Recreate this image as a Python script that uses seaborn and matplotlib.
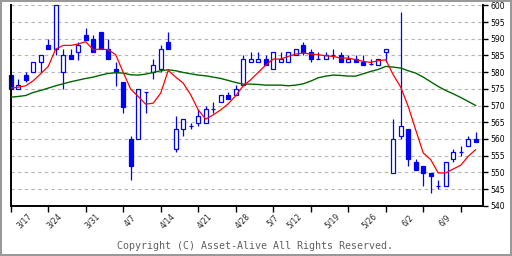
import numpy as np
import pandas as pd
import matplotlib
matplotlib.use('Agg')
import matplotlib.pyplot as plt
import matplotlib.transforms as mtrans
from matplotlib.patches import Rectangle
import seaborn as sns

# ---- data ----
date_labels = ['3/17', '3/24', '3/31', '4/7', '4/14', '4/21', '4/28',
               '5/7', '5/12', '5/19', '5/26', '6/2', '6/9']
label_idx = [0, 4, 9, 14, 19, 24, 29, 33, 36, 41, 46, 51, 56]

opens = [579.1, 574.9, 579.2, 580.0, 583.0, 588.1, 586.9, 580.0, 585.2, 585.9,
         591.1, 589.9, 591.9, 586.9, 581.0, 577.1, 560.1, 560.0, 574.0, 580.0,
         580.9, 588.9, 557.0, 562.9, 563.9, 564.9, 564.9, 568.9, 571.0, 573.0,
         573.0, 576.1, 583.0, 583.0, 583.9, 580.9, 583.0, 583.0, 585.1, 588.1,
         586.1, 583.9, 583.9, 585.1, 585.1, 583.0, 583.9, 583.0, 582.4, 582.1,
         585.9, 549.8, 561.0, 562.9, 553.0, 552.0, 549.8, 546.0, 546.0, 554.0,
         556.0, 558.0, 560.0]
highs = [579.2, 578.0, 580.1, 583.1, 585.1, 589.9, 600.0, 586.9, 586.9, 589.0,
         593.2, 591.1, 591.9, 589.9, 583.1, 577.1, 561.0, 574.9, 574.0, 584.0,
         588.0, 591.9, 566.9, 565.9, 564.9, 568.9, 569.9, 571.0, 573.0, 574.0,
         576.1, 585.1, 586.1, 586.1, 585.1, 586.1, 586.1, 586.1, 586.9, 588.9,
         586.9, 585.9, 586.1, 586.9, 586.1, 585.1, 585.1, 585.1, 583.9, 583.9,
         586.9, 565.9, 598.0, 562.9, 554.0, 552.0, 549.8, 547.8, 553.0, 557.0,
         558.0, 561.0, 562.0]
lows = [574.8, 574.9, 576.9, 580.0, 580.0, 586.8, 585.1, 574.9, 583.8, 583.7,
        589.7, 585.9, 586.9, 583.8, 575.9, 567.9, 547.8, 560.0, 567.9, 577.9,
        580.0, 586.9, 556.0, 561.0, 562.9, 563.9, 564.9, 567.9, 571.0, 571.9,
        573.0, 576.1, 583.0, 583.0, 582.1, 580.9, 583.0, 583.0, 585.1, 585.1,
        583.0, 583.9, 583.9, 583.9, 583.0, 583.0, 583.0, 582.1, 582.1, 582.1,
        583.0, 549.8, 560.0, 551.8, 550.8, 545.8, 543.8, 545.0, 546.0, 553.0,
        555.0, 558.0, 559.0]
closes = [574.9, 576.1, 577.7, 583.1, 585.1, 586.8, 600.0, 585.1, 583.8, 588.0,
          589.7, 585.9, 586.9, 583.8, 579.9, 569.7, 551.8, 574.9, 574.0, 582.1,
          586.9, 586.9, 562.9, 565.9, 563.9, 566.9, 568.9, 568.9, 573.0, 571.9,
          574.9, 583.9, 583.9, 583.9, 582.1, 586.1, 583.9, 586.1, 586.9, 585.9,
          583.9, 583.9, 585.1, 585.1, 583.0, 583.9, 583.0, 582.1, 582.4, 583.9,
          586.9, 560.0, 563.9, 554.0, 550.8, 549.8, 548.8, 546.0, 553.0, 556.0,
          556.0, 560.0, 559.0]
ma_short = [575.2, 575.5, 575.9, 577.4, 579.5, 581.7, 586.9, 588.0, 588.0, 588.4,
            589.1, 586.7, 586.9, 586.7, 585.2, 579.9, 574.9, 572.7, 570.4, 570.7,
            573.7, 580.5, 578.5, 576.7, 573.2, 568.7, 565.9, 567.2, 568.7, 570.5,
            572.9, 575.9, 577.7, 579.9, 582.1, 583.9, 583.9, 584.7, 585.4, 585.7,
            585.4, 585.2, 584.9, 584.7, 584.2, 584.2, 583.7, 583.2, 582.9, 583.4,
            583.7, 579.2, 575.5, 569.7, 562.7, 555.8, 553.8, 549.8, 549.8, 551.0,
            552.1, 554.8, 556.8]
ma_long = [572.5, 572.7, 573.0, 573.9, 574.5, 575.2, 575.9, 576.5, 577.1, 577.6,
           578.1, 578.5, 579.1, 579.6, 579.8, 579.7, 579.2, 579.1, 579.4, 579.9,
           580.4, 580.7, 580.4, 579.9, 579.5, 579.1, 578.9, 578.5, 578.1, 577.5,
           576.9, 576.4, 576.4, 576.3, 576.1, 576.1, 576.1, 575.9, 576.1, 576.5,
           577.3, 578.3, 578.8, 579.1, 579.0, 578.8, 578.8, 579.5, 580.2, 580.8,
           581.7, 581.5, 581.2, 580.4, 579.7, 578.5, 577.1, 575.7, 574.5, 573.5,
           572.4, 571.2, 570.0]
y_ticks = list(range(540, 601, 5))

# ---- figure ----
sns.set_style('white')
plt.rcParams['font.family'] = ['DejaVu Sans']

df = pd.DataFrame({'i': np.arange(len(opens)), 'open': opens, 'high': highs,
                   'low': lows, 'close': closes,
                   'ma_short': ma_short, 'ma_long': ma_long})

fig = plt.figure(figsize=(5.12, 2.56), dpi=100)
fig.patch.set_facecolor('white')
ax = fig.add_axes([10.7 / 512, 50.3 / 256, 472.0 / 512, 200.4 / 256])

blue = '#0000ff'
# wicks
ax.vlines(df['i'], df['low'], df['high'], color=blue, lw=0.9, zorder=2, clip_on=False)
# bodies
bottoms = np.minimum(df['open'], df['close'])
heights = np.abs(df['close'] - df['open'])
faces = [blue if c < o else 'white' for o, c in zip(df['open'], df['close'])]
ax.bar(df['i'], heights, bottom=bottoms, width=0.5, color=faces,
       edgecolor=blue, linewidth=0.9, zorder=2.5, clip_on=False)

# moving averages
sns.lineplot(data=df, x='i', y='ma_long', color='#006600', lw=1.0, ax=ax, zorder=3)
sns.lineplot(data=df, x='i', y='ma_short', color='#ff0000', lw=0.9, ax=ax, zorder=3.1)
ax.set_xlabel('')
ax.set_ylabel('')

ax.set_xlim(0, 62.93)
ax.set_ylim(540, 600)

# spines
ax.spines['top'].set_visible(False)
for s in ['left', 'right', 'bottom']:
    ax.spines[s].set_color('black')
    ax.spines[s].set_linewidth(1.4)

# y axis on right
ax.yaxis.tick_right()
ax.set_yticks(y_ticks)
ax.tick_params(axis='y', which='major', right=True, left=False, length=3.6,
               width=1.0, direction='out', pad=2.2, labelsize=5.5,
               colors='black')
ax.yaxis.grid(True, color='#b4b4b4', linestyle=(0, (3, 3)), linewidth=0.8)
ax.xaxis.grid(False)

# x ticks every 5 candles, labels at date positions
ax.xaxis.remove_overlapping_locs = False
ax.set_xticks(list(range(0, 61, 5)))
ax.set_xticklabels([])
ax.tick_params(axis='x', which='major', bottom=True, length=4.5, width=1.0,
               direction='out', color='black')
ax.set_xticks(label_idx, minor=True)
ax.set_xticklabels(date_labels, minor=True, rotation=45, ha='center',
                   va='center', fontsize=5.5)
ax.tick_params(axis='x', which='minor', length=0, pad=11)
offset = mtrans.ScaledTranslation(0.14, 0, fig.dpi_scale_trans)
for lab in ax.get_xticklabels(minor=True):
    lab.set_transform(lab.get_transform() + offset)

fig.text(255 / 512, 10 / 256, 'Copyright (C) Asset-Alive All Rights Reserved.',
         ha='center', va='center', family='DejaVu Sans Mono', size=7.2,
         color='#606060')

fig.patches.append(Rectangle((0, 0), 1, 1, transform=fig.transFigure,
                             fill=False, edgecolor='#999999', lw=2.9))

fig.savefig('out.png', dpi=100)
